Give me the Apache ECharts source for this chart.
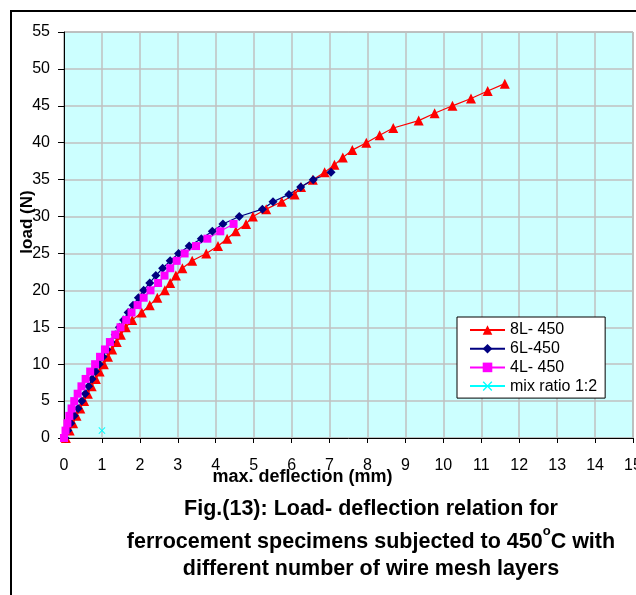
<!DOCTYPE html>
<html>
<head>
<meta charset="utf-8">
<script src="https://cdn.jsdelivr.net/npm/echarts@6/dist/echarts.min.js"></script>
<style>
  html, body { margin: 0; padding: 0; background: #ffffff; }
  #chart { width: 636px; height: 595px; }
</style>
</head>
<body>
<div id="chart"></div>
<script>
// Load (N) steps and measured max. deflection (mm) for each specimen group
const load8L = [0,1,2,3,4,5,6,7,8,9,10,11,12,13,14,15,16,17,18,19,20,21,22,23,24,25,26,27,28,29,30,31,32,33,34,35,36,37,38,39,40,41,42,43,44,45,46,47,48];
const defl8L = [0.05,0.15,0.24,0.33,0.43,0.53,0.63,0.73,0.84,0.94,1.05,1.16,1.27,1.39,1.5,1.63,1.8,2.05,2.26,2.46,2.66,2.8,2.95,3.12,3.38,3.75,4.06,4.3,4.53,4.8,4.98,5.33,5.74,6.08,6.25,6.56,6.87,7.13,7.35,7.6,7.97,8.32,8.68,9.35,9.77,10.24,10.73,11.17,11.62];

const load6L = [0,1,2,3,4,5,6,7,8,9,10,11,12,13,14,15,16,17,18,19,20,21,22,23,24,25,26,27,28,29,30,31,32,33,34,35,36];
const defl6L = [0.03,0.1,0.18,0.27,0.37,0.47,0.56,0.65,0.74,0.83,0.93,1.03,1.13,1.24,1.35,1.46,1.57,1.69,1.82,1.96,2.1,2.26,2.42,2.6,2.8,3.02,3.3,3.62,3.91,4.19,4.62,5.23,5.51,5.93,6.24,6.57,7.04];

const load4L = [0,1,2,3,4,5,6,7,8,9,10,11,12,13,14,15,16,17,18,19,20,21,22,23,24,25,26,27,28,29];
const defl4L = [0,0.04,0.09,0.14,0.2,0.27,0.36,0.46,0.57,0.69,0.82,0.95,1.08,1.21,1.35,1.49,1.64,1.78,1.94,2.1,2.28,2.48,2.65,2.8,2.97,3.18,3.48,3.78,4.12,4.47];

const loadMix = [1];
const deflMix = [1];

const seriesNames = ['8L- 450', '6L-450', '4L- 450', 'mix ratio 1:2'];
const captionLines = [
  'Fig.(13): Load- deflection relation for',
  'ferrocement specimens subjected to 450',
  'different number of wire mesh layers'
];

function pairs(xs, ys) {
  return xs.map((x, i) => [x, ys[i]]);
}

const crossSymbol = 'path://M0,1L1,0L5,4L9,0L10,1L6,5L10,9L9,10L5,6L1,10L0,9L4,5Z';
const FONT = '"Liberation Sans", Arial, sans-serif';
const CAP = 21.5;

const chart = echarts.init(document.getElementById('chart'), null, { renderer: 'canvas' });

chart.setOption({
  animation: false,
  backgroundColor: '#ffffff',
  textStyle: { fontFamily: FONT },
  title: [
    {
      text: captionLines[0],
      left: 366, top: 493, textAlign: 'center',
      textStyle: { fontFamily: FONT, fontSize: CAP, fontWeight: 'bold', color: '#000' }
    },
    {
      text: '{a|' + captionLines[1] + '}{s|o}{a|C with}',
      left: 366, top: 520, textAlign: 'center',
      textStyle: {
        fontFamily: FONT, fontSize: CAP, fontWeight: 'bold', color: '#000',
        rich: {
          a: { fontFamily: FONT, fontSize: CAP, fontWeight: 'bold', color: '#000', lineHeight: 28, verticalAlign: 'bottom' },
          s: { fontFamily: FONT, fontSize: 13, fontWeight: 'bold', color: '#000', lineHeight: 28, verticalAlign: 'top' }
        }
      }
    },
    {
      text: captionLines[2],
      left: 366, top: 553, textAlign: 'center',
      textStyle: { fontFamily: FONT, fontSize: CAP, fontWeight: 'bold', color: '#000' }
    }
  ],
  graphic: [
    {
      type: 'rect', silent: true, z: -1,
      shape: { x: 11, y: 11, width: 700, height: 700 },
      style: { fill: null, stroke: '#000', lineWidth: 2 }
    }
  ],
  grid: {
    left: 64, top: 32, right: 3, bottom: 157,
    outerBoundsMode: 'none',
    show: true, backgroundColor: '#CCFFFF', borderColor: '#808080', borderWidth: 1,
    containLabel: false
  },
  legend: {
    orient: 'vertical',
    left: 457, top: 317,
    backgroundColor: '#ffffff',
    borderColor: '#000', borderWidth: 1,
    padding: [5, 8, 4, 12],
    itemWidth: 35, itemHeight: 12, itemGap: 2.7,
    textStyle: { fontFamily: FONT, fontSize: 16, color: '#000' },
    data: seriesNames
  },
  xAxis: {
    type: 'value', min: 0, max: 15, interval: 1,
    name: 'max. deflection (mm)', nameLocation: 'middle', nameGap: 30,
    nameMoveOverlap: false,
    nameTextStyle: { fontFamily: FONT, fontSize: 18, fontWeight: 'bold', color: '#000', padding: [0, 92, 0, 0] },
    axisLine: { show: true, lineStyle: { color: '#000', width: 1 } },
    axisTick: { show: true, length: 5, lineStyle: { color: '#000' } },
    axisLabel: { fontFamily: FONT, fontSize: 16, color: '#000', margin: 20 },
    splitLine: { show: true, lineStyle: { color: '#C0C0C0', width: 1.5 } }
  },
  yAxis: {
    type: 'value', min: 0, max: 55, interval: 5,
    name: 'load (N)', nameLocation: 'middle', nameGap: 28, nameRotate: 90,
    nameMoveOverlap: false,
    nameTextStyle: { fontFamily: FONT, fontSize: 17, fontWeight: 'bold', color: '#000', padding: [0, 0, 0, 26] },
    axisLine: { show: true, lineStyle: { color: '#000', width: 1 } },
    axisTick: { show: true, length: 6, lineStyle: { color: '#000' } },
    axisLabel: { fontFamily: FONT, fontSize: 16, color: '#000', margin: 14 },
    splitLine: { show: true, lineStyle: { color: '#C0C0C0', width: 1.5 } }
  },
  series: [
    {
      name: seriesNames[0], type: 'line', data: pairs(defl8L, load8L),
      symbol: 'triangle', symbolSize: 10,
      lineStyle: { color: '#FF0000', width: 1.2 },
      itemStyle: { color: '#FF0000' }
    },
    {
      name: seriesNames[1], type: 'line', data: pairs(defl6L, load6L),
      symbol: 'diamond', symbolSize: 9,
      lineStyle: { color: '#000080', width: 1.2 },
      itemStyle: { color: '#000080' }
    },
    {
      name: seriesNames[2], type: 'line', data: pairs(defl4L, load4L),
      symbol: 'rect', symbolSize: 8,
      lineStyle: { color: '#FF00FF', width: 1.2 },
      itemStyle: { color: '#FF00FF' }
    },
    {
      name: seriesNames[3], type: 'line', data: pairs(deflMix, loadMix),
      symbol: crossSymbol, symbolSize: 7,
      lineStyle: { color: '#00FFFF', width: 1.2 },
      itemStyle: { color: '#00FFFF' }
    }
  ]
});
</script>
</body>
</html>
